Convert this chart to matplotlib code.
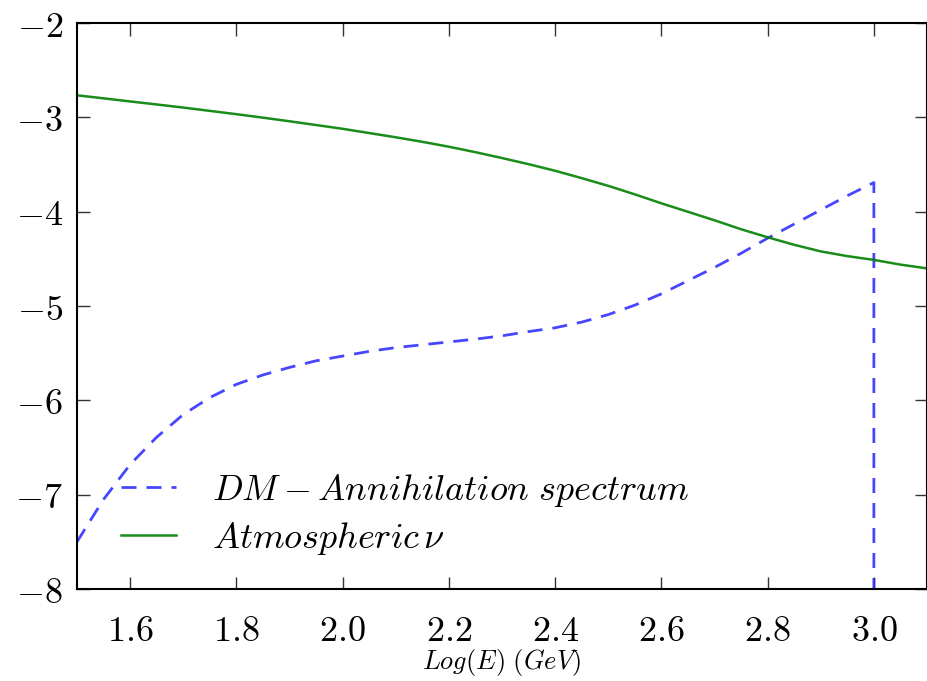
import matplotlib
matplotlib.use("Agg")
import matplotlib.pyplot as plt
from matplotlib.ticker import FuncFormatter, MultipleLocator

plt.rcParams['mathtext.fontset'] = 'cm'
plt.rcParams['font.family'] = ['DejaVu Serif']

# Atmospheric neutrino curve
atm_x = [1.5, 1.55, 1.6, 1.65, 1.7, 1.75, 1.8, 1.85, 1.9, 1.95, 2.0, 2.05, 2.1, 2.15,
         2.2, 2.25, 2.3, 2.35, 2.4, 2.45, 2.5, 2.55, 2.6, 2.65, 2.7, 2.75, 2.8, 2.85,
         2.9, 2.95, 3.0, 3.05, 3.1]
atm_y = [-2.765, -2.797, -2.83, -2.862, -2.895, -2.93, -2.965, -3.002, -3.04, -3.08,
         -3.12, -3.165, -3.21, -3.258, -3.31, -3.368, -3.43, -3.495, -3.565, -3.643,
         -3.725, -3.815, -3.91, -4.00, -4.09, -4.185, -4.27, -4.35, -4.42, -4.47,
         -4.51, -4.56, -4.60]

# DM annihilation spectrum
dm_x = [1.5, 1.55, 1.6, 1.65, 1.7, 1.75, 1.8, 1.85, 1.9, 1.95, 2.0, 2.05, 2.1, 2.15,
        2.2, 2.25, 2.3, 2.35, 2.4, 2.45, 2.5, 2.55, 2.6, 2.65, 2.7, 2.75, 2.8, 2.85,
        2.9, 2.95, 3.0, 3.0]
dm_y = [-7.50, -7.05, -6.68, -6.39, -6.15, -5.97, -5.83, -5.73, -5.65, -5.58, -5.53,
        -5.48, -5.44, -5.41, -5.38, -5.35, -5.315, -5.27, -5.23, -5.17, -5.09, -4.99,
        -4.87, -4.73, -4.59, -4.44, -4.28, -4.13, -3.98, -3.83, -3.69, -8.0]

x_label = r'$Log(E)\ (GeV)$'
dm_label = r'$DM-Annihilation\ spectrum$'
atm_label = r'$Atmospheric\,\nu$'

fig = plt.figure(figsize=(9.27, 6.81), dpi=100)
ax = fig.add_axes([0.083, 0.135, 0.917, 0.831])

ax.plot(dm_x, dm_y, color=(0.15, 0.15, 1.0), lw=2.0, dashes=(5.4, 3.6), alpha=0.85,
        label=dm_label)
ax.plot(atm_x, atm_y, color=(0.0, 0.5, 0.0), lw=1.8, alpha=0.9, label=atm_label)

ax.set_xlim(1.5, 3.1)
ax.set_ylim(-8, -2)
ax.xaxis.set_major_locator(MultipleLocator(0.2))
ax.yaxis.set_major_locator(MultipleLocator(1))
ax.xaxis.set_major_formatter(FuncFormatter(lambda v, p: r'$%.1f$' % v))
ax.yaxis.set_major_formatter(FuncFormatter(lambda v, p: r'$%d$' % round(v)))

ax.tick_params(direction='in', top=True, right=True, length=9, width=1.0,
               labelsize=26, color='#333333')
ax.tick_params(axis='x', pad=18)
ax.tick_params(axis='y', pad=10)
for s in ax.spines.values():
    s.set_linewidth(1.5)

ax.set_xlabel(x_label, fontsize=19, labelpad=-1)

leg = ax.legend(loc='lower left', bbox_to_anchor=(0.014, 0.0), frameon=False,
                fontsize=26, handlelength=1.5, handletextpad=1.0, labelspacing=0.3)

fig.savefig('out.png', dpi=100)
